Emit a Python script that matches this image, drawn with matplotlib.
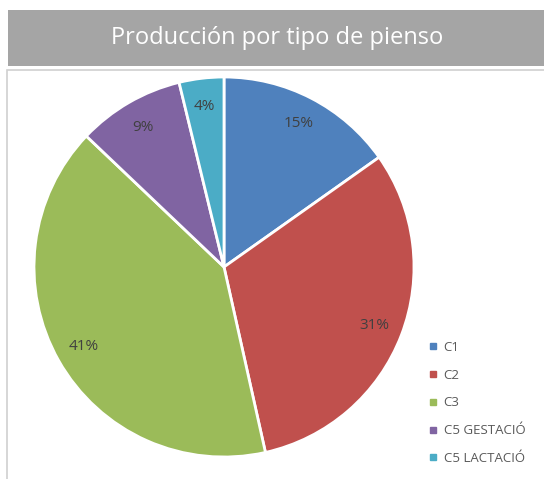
import matplotlib
matplotlib.use("Agg")
import matplotlib.pyplot as plt
from matplotlib.patches import Rectangle
from matplotlib.lines import Line2D

categories = ["C1", "C2", "C3", "C5 GESTACIÓ", "C5 LACTACIÓ"]
values = [15.2, 31.3, 40.6, 9.1, 3.8]
colors = ["#4F81BD", "#C0504D", "#9BBB59", "#8064A2", "#4BACC6"]
title = "Producción por tipo de pienso"

W, H = 544, 479
fig = plt.figure(figsize=(W / 100, H / 100), dpi=100)
fig.patch.set_facecolor("white")

# title bar
fig.patches.append(Rectangle((8 / W, 1 - 66 / H), (W - 8) / W + 0.05, 56 / H,
                             transform=fig.transFigure, facecolor="#A5A5A5",
                             edgecolor="none", zorder=0))
fig.text(277 / W, 1 - 38 / H, title, ha="center", va="center",
         color="white", fontsize=17, family=["Open Sans", "DejaVu Sans"])
# chart border
fig.patches.append(Rectangle((7 / W, -0.05), 1.2, (1 - 70 / H) + 0.05,
                             transform=fig.transFigure, facecolor="none",
                             edgecolor="#D0D0D0", linewidth=1.2, zorder=0))

cx, cy, r = 224, 267, 190
ax = fig.add_axes([(cx - r) / W, (H - cy - r) / H, 2 * r / W, 2 * r / H])
wedges, texts, autotexts = ax.pie(
    values, colors=colors, startangle=90, counterclock=False,
    autopct=lambda p: f"{p:.0f}%", pctdistance=0.85,
    wedgeprops=dict(edgecolor="white", linewidth=2),
    textprops=dict(color="#404040", fontsize=11, family=["Open Sans", "DejaVu Sans"]))
ax.set_xlim(-1, 1)
ax.set_ylim(-1, 1)
ax.set_aspect("equal")
ax.axis("off")

handles = [Line2D([], [], marker="s", linestyle="none", markersize=4.5,
                  markerfacecolor=c, markeredgecolor=c) for c in colors]
leg = fig.legend(handles, categories, loc="upper left",
                 bbox_to_anchor=(416 / W, 1 - 329 / H), frameon=False,
                 handlelength=0.8, handletextpad=0.4,
                 labelspacing=1.12, prop=dict(family=["Open Sans", "DejaVu Sans"], size=9.5))
for t in leg.get_texts():
    t.set_color("#595959")

fig.savefig("out.png", dpi=100)
